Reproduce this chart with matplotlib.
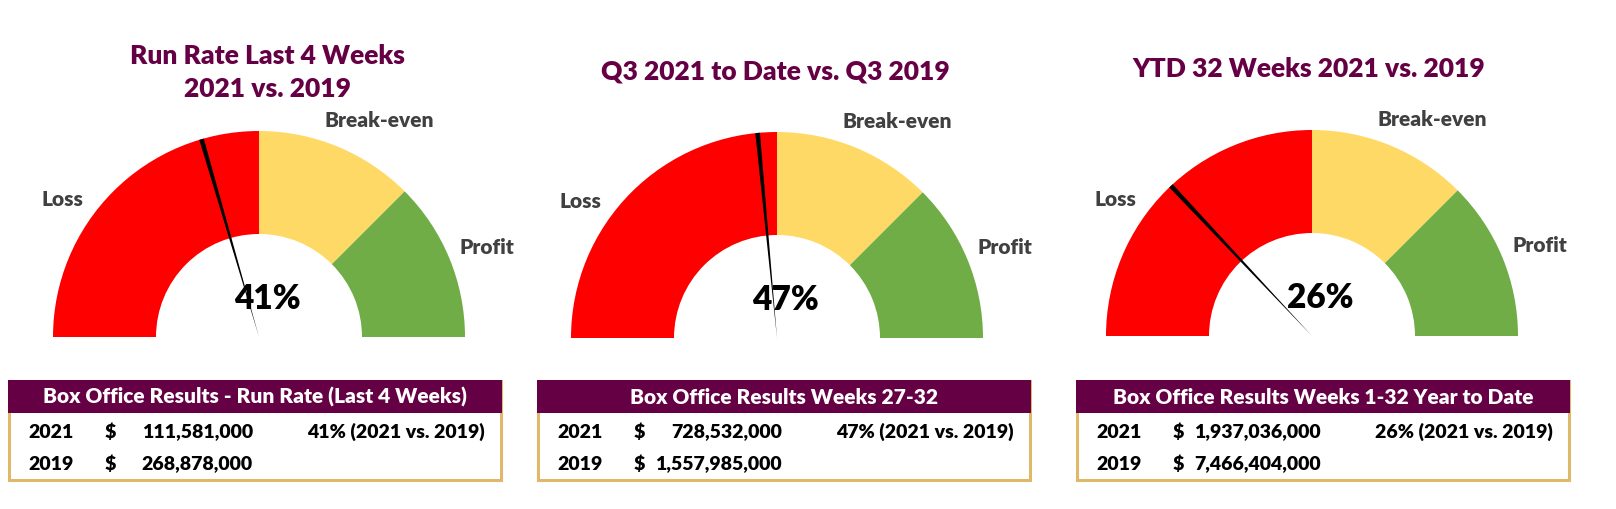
import matplotlib.pyplot as plt
from matplotlib.patches import Wedge, Rectangle, Polygon
import numpy as np

plt.rcParams['font.family'] = ['Lato', 'DejaVu Sans']

# gauge data
titles = ["Run Rate Last 4 Weeks\n2021 vs. 2019",
          "Q3 2021 to Date vs. Q3 2019",
          "YTD 32 Weeks 2021 vs. 2019"]
pct = [41, 47, 26]
zones = ["Loss", "Break-even", "Profit"]
zone_share = [50, 25, 25]
zone_colors = ["#FF0000", "#FFD966", "#70AD47"]

# table data
table_heads = ["Box Office Results - Run Rate (Last 4 Weeks)",
               "Box Office Results Weeks 27-32",
               "Box Office Results Weeks 1-32 Year to Date"]
years = ["2021", "2019"]
box_2021 = [111581000, 728532000, 1937036000]
box_2019 = [268878000, 1557985000, 7466404000]

PURPLE = "#660044"
TAN = "#DEB96B"
GREY = "#404040"
BOLD = 'heavy'

fig = plt.figure(figsize=(16.16, 5.09), dpi=100)
ax = fig.add_axes([0, 0, 1, 1])
ax.set_xlim(0, 1616)
ax.set_ylim(509, 0)
ax.axis('off')

centers = [(259, 337), (777, 338), (1312, 336)]
title_pos = [(267, 56), (775, 71), (1309, 69)]
label_off = [(-197, -137), (120, -217), (228, -90)]
R, W = 206, 103
table_left = [9, 538, 1077]

for i in range(3):
    cx, cy = centers[i]
    # colored zones, angles go from 180 (left) to 0 (right)
    start = 180
    for z, share, col, off in zip(zones, zone_share, zone_colors, label_off):
        end = start - share * 180 / 100
        ax.add_patch(Wedge((cx, cy), R, -start, -end, width=W, color=col, lw=0))
        ax.text(cx + off[0], cy + off[1], z, ha='center', va='center',
                fontsize=15, fontweight=BOLD, color=GREY)
        start = end

    # needle
    ang = np.radians(180 - pct[i] * 1.8)
    half = np.radians(0.65)
    pts = [(cx, cy),
           (cx + R * np.cos(ang - half), cy - R * np.sin(ang - half)),
           (cx + R * np.cos(ang + half), cy - R * np.sin(ang + half))]
    ax.add_patch(Polygon(pts, closed=True, color='black', lw=0, zorder=3))

    ax.text(cx + 8, cy - 38, f"{pct[i]}%", ha='center', va='center',
            fontsize=24, fontweight=BOLD, color='black', zorder=4)

    # title
    tx, ty = title_pos[i]
    for k, line in enumerate(titles[i].split("\n")):
        ax.text(tx, ty + 33 * k, line, ha='center', va='center',
                fontsize=19, fontweight=BOLD, color=PURPLE)

    # table
    L = table_left[i]
    ax.add_patch(Rectangle((L, 381), 492, 99, fill=False, edgecolor=TAN, lw=2.2))
    ax.add_patch(Rectangle((L - 1, 380), 494, 33, color=PURPLE, lw=0, zorder=2))
    ax.text(L + 246, 397, table_heads[i], ha='center', va='center',
            fontsize=15, fontweight=BOLD, color='white', zorder=3)
    vals = [box_2021[i], box_2019[i]]
    for r, (yr, v) in enumerate(zip(years, vals)):
        y = 432 + 32 * r
        ax.text(L + 42, y, yr, ha='center', va='center', fontsize=14, fontweight=BOLD)
        ax.text(L + 101, y, "$", ha='center', va='center', fontsize=14, fontweight=BOLD)
        ax.text(L + 244, y, f"{v:,}", ha='right', va='center', fontsize=14, fontweight=BOLD)
        if r == 0:
            ax.text(L + 298, y, f"{pct[i]}% (2021 vs. 2019)", ha='left', va='center',
                    fontsize=14, fontweight=BOLD)

fig.savefig("out.png", dpi=100)
